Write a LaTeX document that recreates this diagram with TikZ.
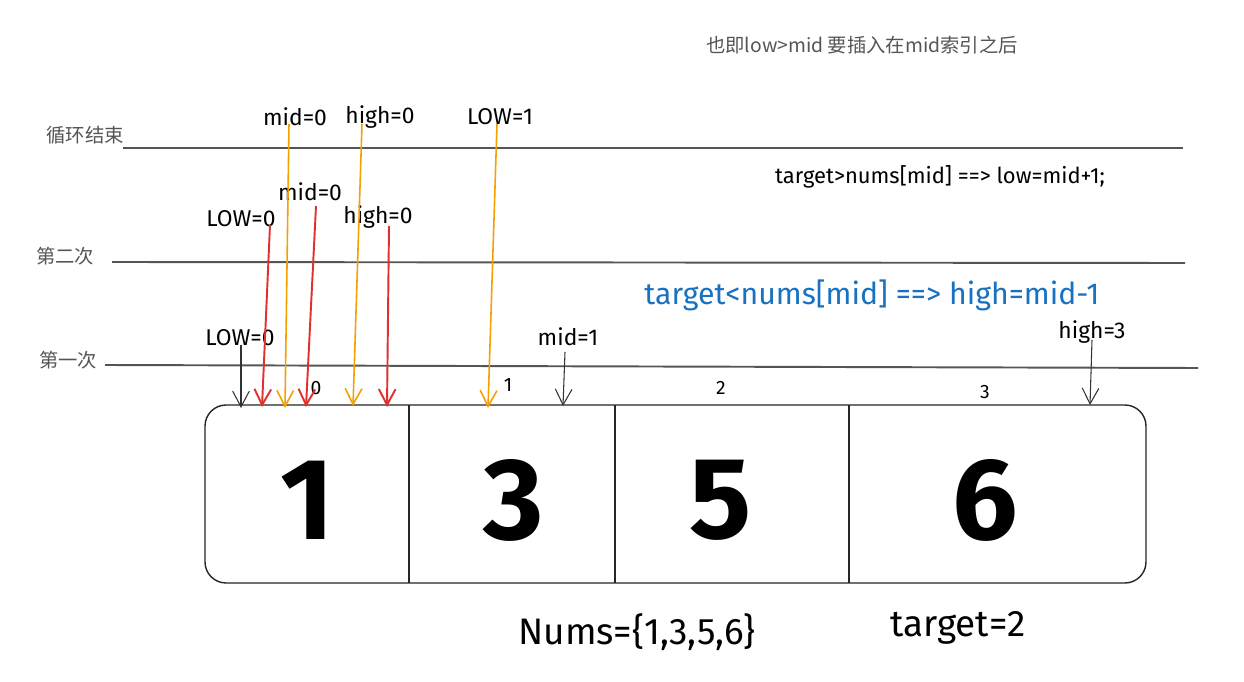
\documentclass[tikz,border=0pt]{standalone}
\usepackage{fontspec}
\setmainfont{Fira Sans}
\newfontfamily\cjk{Noto Sans CJK SC}
\usetikzlibrary{arrows.meta}
\definecolor{linegray}{HTML}{555555}
\definecolor{redarr}{HTML}{E03131}
\definecolor{orangearr}{HTML}{F59F00}
\definecolor{bluetxt}{HTML}{1971C2}
\definecolor{graytxt}{HTML}{555555}
\tikzset{
  tip/.style={-{Straight Barb[length=9pt,width=9.5pt]}},
  blackarr/.style={tip, draw=black!80, line width=0.6pt},
  redarrow/.style={tip, draw=redarr, line width=1.1pt},
  orangearrow/.style={tip, draw=orangearr, line width=0.9pt},
  level/.style={draw=linegray, line width=1.1pt},
  lab/.style={font=\fontsize{13}{15}\selectfont, inner sep=1pt},
  cjklab/.style={font=\cjk\fontsize{11}{13}\selectfont\color{graytxt}, inner sep=1pt},
  idx/.style={font=\fontsize{11}{13}\selectfont, inner sep=1pt},
  big/.style={font=\fontsize{66}{66}\selectfont\bfseries, inner sep=0pt},
  cell/.style={draw=black!85, line width=0.8pt}
}
\begin{document}
\begin{tikzpicture}[x=0.02cm,y=-0.02cm]
\useasboundingbox (0,0) rectangle (1244,682);
\fill[white] (0,0) rectangle (1244,682);

% top note
\node[cjklab] (note) at (862,45) {也即low>mid 要插入在mid索引之后};

% level lines and labels
\node[cjklab] (l3) at (85,135) {循环结束};
\node[cjklab] (l2) at (65,256) {第二次};
\node[cjklab] (l1) at (68,360) {第一次};
\coordinate (a3) at (123,148); \coordinate (b3) at (1183,148);
\coordinate (a2) at (112,262); \coordinate (b2) at (1185,263);
\coordinate (a1) at (105,365); \coordinate (b1) at (1198,368);
\draw[level] (a3) -- (b3);
\draw[level] (a2) -- (b2);
\draw[level] (a1) -- (b1);

% rules
\node[lab, font=\fontsize{12.5}{14}\selectfont] (gt) at (940,177) {target>nums[mid] ==> low=mid+1;};
\node[lab, text=bluetxt, font=\fontsize{17.2}{19}\selectfont] (lt) at (872,295) {target<nums[mid] ==> high=mid-1};

% array box
\draw[cell, rounded corners=12pt] (205,405) rectangle (1146,583);
\coordinate (d1t) at (409,405); \coordinate (d1b) at (409,583);
\coordinate (d2t) at (615,405); \coordinate (d2b) at (615,583);
\coordinate (d3t) at (849,405); \coordinate (d3b) at (849,583);
\draw[cell] (d1t) -- (d1b);
\draw[cell] (d2t) -- (d2b);
\draw[cell] (d3t) -- (d3b);
\node[big] (v0) at (307,500) {1};
\node[big] (v1) at (514,500) {3};
\node[big] (v2) at (721,500) {5};
\node[big] (v3) at (985,500) {6};

% indices
\node[idx] (i0) at (316,388) {0};
\node[idx] (i1) at (508,385) {1};
\node[idx] (i2) at (721,388) {2};
\node[idx] (i3) at (985,392) {3};

% first pass (black)
\node[lab] (f1low) at (240,338) {LOW=0};
\node[lab] (f1mid) at (568,337) {mid=1};
\node[lab] (f1high) at (1092,332) {high=3};
\coordinate (f1lows) at (241,345); \coordinate (f1lowe) at (241,408);
\coordinate (f1mids) at (565,352); \coordinate (f1mide) at (563,406);
\coordinate (f1highs) at (1092,340); \coordinate (f1highe) at (1090,405);
\draw[blackarr] (f1lows) -- (f1lowe);
\draw[blackarr] (f1mids) -- (f1mide);
\draw[blackarr] (f1highs) -- (f1highe);

% second pass (red)
\node[lab] (f2low) at (241,219) {LOW=0};
\node[lab] (f2mid) at (310,192) {mid=0};
\node[lab] (f2high) at (378,217) {high=0};
\coordinate (f2lows) at (270,225); \coordinate (f2lowe) at (262,407);
\coordinate (f2mids) at (316,206); \coordinate (f2mide) at (306,407);
\coordinate (f2highs) at (389,226); \coordinate (f2highe) at (387,407);
\draw[redarrow] (f2lows) -- (f2lowe);
\draw[redarrow] (f2mids) -- (f2mide);
\draw[redarrow] (f2highs) -- (f2highe);

% loop end (orange)
\node[lab] (f3mid) at (295,117) {mid=0};
\node[lab] (f3high) at (380,117) {high=0};
\node[lab] (f3low) at (500,117) {LOW=1};
\coordinate (f3mids) at (289,124); \coordinate (f3mide) at (285,408);
\coordinate (f3highs) at (362,124); \coordinate (f3highe) at (353,406);
\coordinate (f3lows) at (497,124); \coordinate (f3lowe) at (488,408);
\draw[orangearrow] (f3mids) -- (f3mide);
\draw[orangearrow] (f3highs) -- (f3highe);
\draw[orangearrow] (f3lows) -- (f3lowe);

% bottom texts
\node[lab, font=\fontsize{21}{23}\selectfont] (nums) at (637,632) {Nums=\{1,3,5,6\}};
\node[lab, font=\fontsize{21}{23}\selectfont] (tg) at (958,628) {target=2};
\end{tikzpicture}
\end{document}
